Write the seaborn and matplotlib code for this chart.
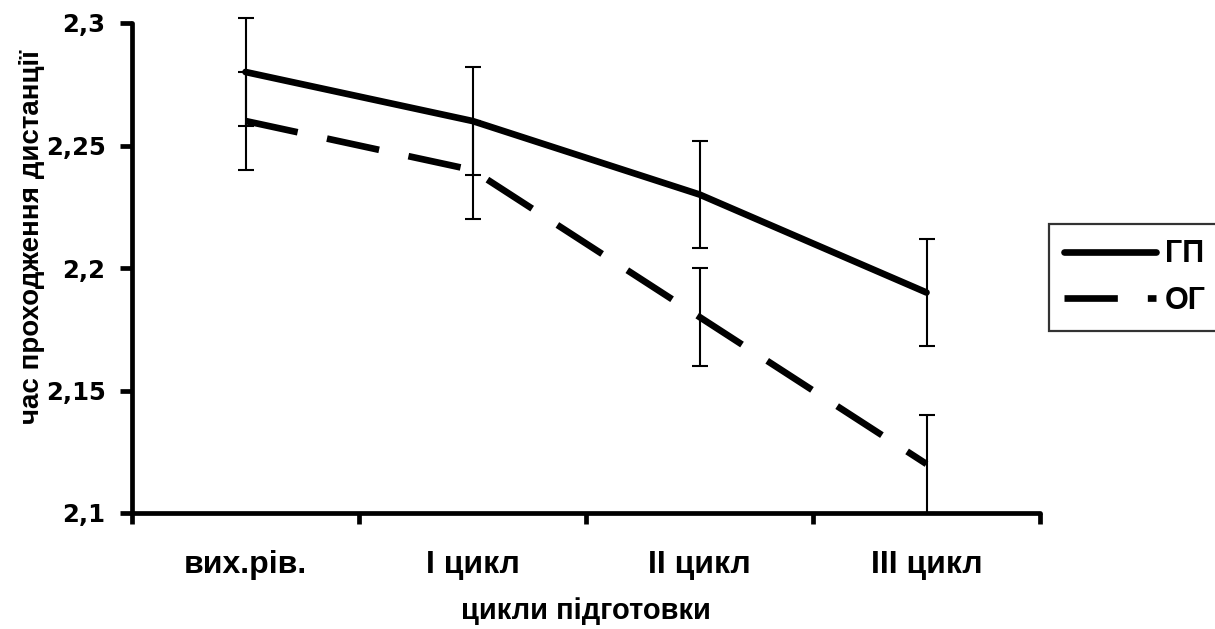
import matplotlib
matplotlib.use("Agg")
import matplotlib.pyplot as plt
import seaborn as sns
import pandas as pd
import numpy as np

# ---- data ----
categories = ["вих.рів.", "I цикл", "II цикл", "III цикл"]
series_names = ["ГП", "ОГ"]
gp_values = [2.28, 2.26, 2.23, 2.19]
gp_errors = [0.022, 0.022, 0.022, 0.022]
og_values = [2.26, 2.24, 2.18, 2.12]
og_errors = [0.02, 0.02, 0.02, 0.02]
y_ticks = [2.1, 2.15, 2.2, 2.25, 2.3]
y_tick_labels = ["2,1", "2,15", "2,2", "2,25", "2,3"]
x_label = "цикли підготовки"
y_label = "час проходження дистанції"

sns.set_theme(style="white")
plt.rcParams["font.family"] = ["Liberation Sans", "DejaVu Sans"]
plt.rcParams["font.weight"] = "bold"
for k in ["text.color", "axes.labelcolor", "xtick.color", "ytick.color"]:
    plt.rcParams[k] = "black"

df = pd.DataFrame({
    "pos": list(range(len(categories))) * 2,
    "value": gp_values + og_values,
    "err": gp_errors + og_errors,
    "series": [series_names[0]] * len(categories) + [series_names[1]] * len(categories),
})

W, H = 1215, 629
fig = plt.figure(figsize=(W / 100, H / 100), dpi=100)
fig.patch.set_facecolor("white")

left_px, right_px = 132, 1040
bottom_px, top_px = 513, 13.2
ax = fig.add_axes([left_px / W, 1 - bottom_px / H,
                   (right_px - left_px) / W, (bottom_px - top_px) / H])

lw = 4.8
sns.lineplot(data=df, x="pos", y="value", hue="series", style="series",
             palette={series_names[0]: "black", series_names[1]: "black"},
             dashes={series_names[0]: "", series_names[1]: (8.0, 4.5)},
             linewidth=lw, ax=ax, legend=True, sort=False)
for line in ax.lines:
    line.set_dash_capstyle("butt")
    line.set_solid_capstyle("round")

for name in series_names:
    sub = df[df["series"] == name]
    ax.errorbar(sub["pos"], sub["value"], yerr=sub["err"], fmt="none",
                ecolor="black", elinewidth=1.5, capsize=5.5, capthick=1.5,
                zorder=3)

ax.set_xlim(-0.5, 3.5)
ax.set_ylim(2.1, 2.304)
ax.spines["left"].set_bounds(2.1, 2.3)
for s in ["top", "right"]:
    ax.spines[s].set_visible(False)
for s in ["left", "bottom"]:
    ax.spines[s].set_linewidth(3.4)
    ax.spines[s].set_color("black")
    ax.spines[s].set_capstyle("round")

ax.set_yticks(y_ticks)
ax.set_yticklabels(y_tick_labels, fontsize=17.5, fontweight="bold",
                   family=["DejaVu Sans"], color="black")
ax.tick_params(axis="y", direction="out", length=9, width=3.4,
               color="black", pad=10, left=True)

ax.set_xticks(range(len(categories)))
ax.set_xticklabels(categories, fontsize=23, fontweight="bold", color="black")
ax.set_xticks(np.arange(-0.5, len(categories), 1.0), minor=True)
ax.tick_params(axis="x", which="major", length=0, pad=27, bottom=True)
ax.tick_params(axis="x", which="minor", direction="out", length=8,
               width=3.4, color="black", bottom=True)

ax.set_xlabel(x_label, fontsize=21, fontweight="bold", color="black")
ax.xaxis.label.set_verticalalignment("baseline")
ax.xaxis.set_label_coords(0.5, (bottom_px - 619) / (bottom_px - top_px))
ax.set_ylabel(y_label, fontsize=20, fontweight="bold", color="black")
ax.yaxis.label.set_verticalalignment("center")
ax.yaxis.set_label_coords((32 - left_px) / (right_px - left_px),
                          (bottom_px - 237) / (bottom_px - top_px))
ax.grid(False)

leg = ax.legend(title=None, loc="upper left",
                bbox_to_anchor=(1049 / W, 1 - 224 / H),
                bbox_transform=fig.transFigure, borderaxespad=0,
                frameon=True, fancybox=False, edgecolor="black",
                prop={"size": 22, "weight": "bold"},
                handlelength=3.0, handletextpad=0.3, borderpad=0.5,
                labelspacing=0.55)
leg.get_frame().set_linewidth(1.6)
for t in leg.get_texts():
    t.set_color("black")
for h in leg.get_lines():
    h.set_linewidth(lw)
    h.set_dash_capstyle("butt")
    h.set_solid_capstyle("round")

fig.savefig("out.png", dpi=100, facecolor="white")
